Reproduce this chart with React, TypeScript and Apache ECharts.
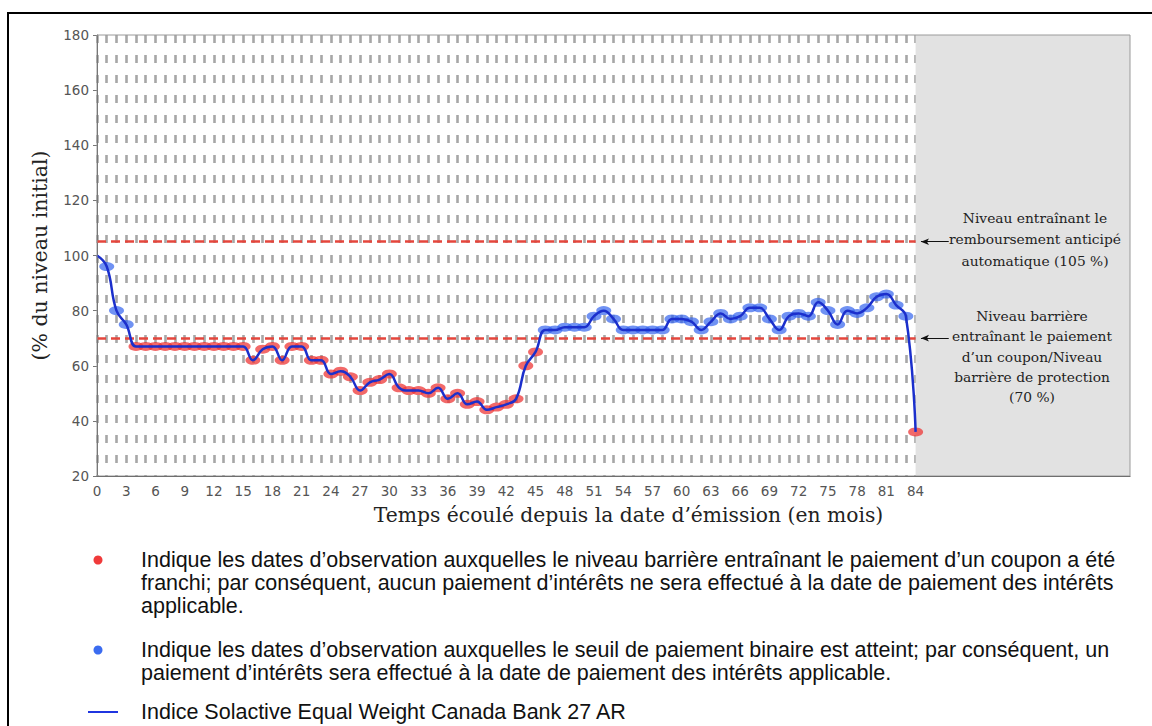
import { useEffect, useRef } from "react";
import * as echarts from "echarts";

// Monthly index level (% of initial level), months 0..84
const levels: number[] = [
  100, 96, 80, 75, 67, 67, 67, 67, 67, 67, 67, 67, 67, 67, 67, 67,
  62, 66, 67, 62, 67, 67, 62, 62,
  57, 58, 56, 51, 54, 55, 57,
  52, 51, 51, 50, 52, 48, 50, 46, 47, 44, 45, 46, 48,
  60, 65,
  73, 73, 74, 74, 74, 78, 80, 77, 73, 73, 73, 73, 73,
  77, 77, 76, 73, 76, 79, 77, 78, 81, 81, 77, 73,
  78, 79, 78, 83, 80, 75, 80, 79, 81, 85, 86, 82, 78,
  36,
];
const autocallLevel = 105;
const couponBarrier = 70;
const lastMonth = 84;
const axisEnd = 106;
const yTicks = { min: 20, max: 180, step: 20 };
const xStep = 3;

const annotation105 = "Niveau entraînant le\nremboursement anticipé\nautomatique (105 %)";
const annotation70 =
  "Niveau barrière\nentraînant le paiement\nd’un coupon/Niveau\nbarrière de protection\n(70 %)";
const xName = "Temps écoulé depuis la date d’émission (en mois)";
const yName = "(% du niveau initial)";
const legendRed = [
  "Indique les dates d’observation auxquelles le niveau barrière entraînant le paiement d’un coupon a été",
  "franchi; par conséquent, aucun paiement d’intérêts ne sera effectué à la date de paiement des intérêts",
  "applicable.",
];
const legendBlue = [
  "Indique les dates d’observation auxquelles le seuil de paiement binaire est atteint; par conséquent, un",
  "paiement d’intérêts sera effectué à la date de paiement des intérêts applicable.",
];
const legendLine = "Indice Solactive Equal Weight Canada Bank 27 AR";

export default function App() {
  const ref = useRef<HTMLDivElement>(null);
  useEffect(() => {
    const chart = echarts.init(ref.current!, null, { renderer: "svg" });
    const pts = levels.map((v, i) => [i, v]);
    const redPts = pts.filter(([i, v]) => i > 0 && v < couponBarrier);
    const bluePts = pts.filter(([i, v]) => i > 0 && v >= couponBarrier);
    const gridDash = { color: "#a7a7a7", width: 2.6, type: [8, 12] as number[] };
    const legendFont = '21.5px "Liberation Sans", Arial, sans-serif';
    const serif = '"DejaVu Serif", serif';

    const option: any = {
      animation: false,
      backgroundColor: "#fff",
      grid: {
        left: 97,
        right: 22,
        top: 35,
        bottom: 250,
        show: true,
        borderColor: "#9a9a9a",
        borderWidth: 1,
        z: 10,
      },
      xAxis: {
        type: "value",
        min: 0,
        max: axisEnd,
        interval: xStep,
        name: xName,
        nameLocation: "middle",
        nameGap: 29,
        nameTextStyle: { fontFamily: serif, fontSize: 20.3, color: "#222", padding: [0, 0, 0, 30] },
        axisLine: { show: true, lineStyle: { color: "#444", width: 1 } },
        axisTick: { show: false },
        axisLabel: {
          margin: 8,
          fontFamily: '"DejaVu Sans", sans-serif',
          fontSize: 13.5,
          color: "#555",
          showMaxLabel: false,
          formatter: (v: number) => (v <= lastMonth ? String(v) : ""),
        },
        splitLine: { show: true, showMaxLine: false, lineStyle: gridDash },
        minorTick: { show: false, splitNumber: 3 },
        minorSplitLine: { show: true, lineStyle: gridDash },
      },
      yAxis: {
        type: "value",
        min: yTicks.min,
        max: yTicks.max,
        interval: yTicks.step,
        name: yName,
        nameLocation: "middle",
        nameGap: 47,
        nameRotate: 90,
        nameTextStyle: { fontFamily: serif, fontSize: 20.5, color: "#222" },
        axisLine: { show: true, lineStyle: { color: "#555", width: 1 } },
        axisTick: { show: true, length: 4, lineStyle: { color: "#777" } },
        axisLabel: {
          margin: 8,
          fontFamily: '"DejaVu Sans", sans-serif',
          fontSize: 13.5,
          color: "#555",
        },
        splitLine: { show: false },
      },
      series: [
        {
          name: "levels",
          type: "line",
          data: pts,
          smooth: 0.45,
          showSymbol: false,
          z: 6,
          lineStyle: { color: "#1b2fcc", width: 2.5 },
          markArea: {
            silent: true,
            itemStyle: { color: "#e2e2e2" },
            data: [[{ xAxis: lastMonth }, { xAxis: axisEnd }]],
          },
        },
        {
          name: "red",
          type: "scatter",
          data: redPts,
          symbol: "circle",
          symbolSize: [15, 9],
          z: 4,
          itemStyle: { color: "rgba(238,52,52,0.92)" },
          markLine: {
            silent: true,
            label: { show: false },
            lineStyle: { color: "#111", width: 1, type: "solid" },
            data: [autocallLevel, couponBarrier].map((lv) => [
              { coord: [lastMonth + 0.55, lv], symbol: "arrow", symbolSize: [5, 8] },
              { coord: [lastMonth + 3.4, lv], symbol: "none" },
            ]),
          },
        },
        {
          name: "blue",
          type: "scatter",
          data: bluePts,
          symbol: "circle",
          symbolSize: [15, 9],
          z: 4,
          itemStyle: { color: "rgba(52,100,238,0.88)" },
          markLine: {
            silent: true,
            symbol: "none",
            label: { show: false },
            lineStyle: { color: "#e5463c", width: 2.6, type: [9, 5] },
            data: [autocallLevel, couponBarrier].map((lv) => [
              { coord: [0, lv] },
              { coord: [lastMonth, lv] },
            ]),
          },
        },
      ],
      graphic: [
        { type: "line", shape: { x1: 7, y1: 13, x2: 1152, y2: 13 }, style: { stroke: "#000", lineWidth: 2 } },
        { type: "line", shape: { x1: 8, y1: 12, x2: 8, y2: 726 }, style: { stroke: "#000", lineWidth: 2 } },
        {
          type: "text",
          x: 1035,
          y: 207,
          z: 20,
          style: { text: annotation105, font: `13.8px ${serif}`, fill: "#222", align: "center", verticalAlign: "top", lineHeight: 21.5 },
        },
        {
          type: "text",
          x: 1032,
          y: 306,
          z: 20,
          style: { text: annotation70, font: `13.8px ${serif}`, fill: "#222", align: "center", verticalAlign: "top", lineHeight: 20.2 },
        },
        { type: "circle", shape: { cx: 98, cy: 560, r: 4.5 }, style: { fill: "#f03a3a" } },
        { type: "circle", shape: { cx: 98, cy: 650, r: 4.5 }, style: { fill: "#3b6cf0" } },
        { type: "line", shape: { x1: 88, y1: 712, x2: 118, y2: 712 }, style: { stroke: "#1f35e0", lineWidth: 2 } },
        {
          type: "text",
          x: 141,
          y: 548.5,
          style: { text: legendRed.join("\n"), font: legendFont, fill: "#111", verticalAlign: "top", lineHeight: 23 },
        },
        {
          type: "text",
          x: 141,
          y: 638.5,
          style: { text: legendBlue.join("\n"), font: legendFont, fill: "#111", verticalAlign: "top", lineHeight: 23 },
        },
        {
          type: "text",
          x: 141,
          y: 700.5,
          style: { text: legendLine, font: legendFont, fill: "#111", verticalAlign: "top", lineHeight: 23 },
        },
      ],
    };
    chart.setOption(option);
    return () => chart.dispose();
  }, []);
  return (
    <div
      ref={ref}
      style={{ position: "fixed", left: 0, top: 0, width: 1152, height: 726, background: "#fff" }}
    />
  );
}
